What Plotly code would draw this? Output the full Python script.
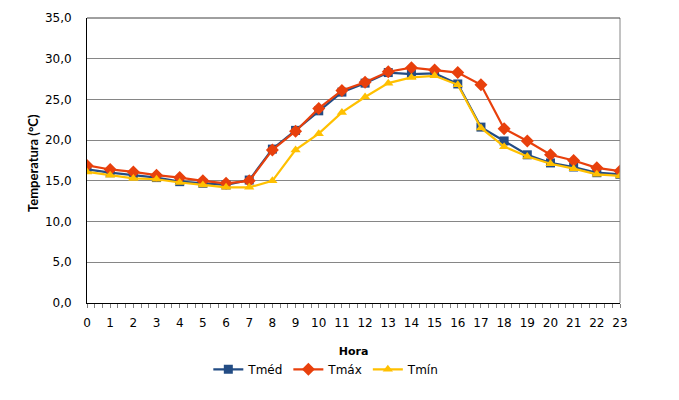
import plotly.graph_objects as go

hours = list(range(24))
tmed = [16.4, 16.0, 15.7, 15.4, 14.9, 14.7, 14.5, 15.1, 18.9, 21.2, 23.6, 25.9,
        27.0, 28.3, 28.1, 28.2, 26.9, 21.6, 19.9, 18.2, 17.2, 16.7, 16.0, 15.8]
tmax = [16.9, 16.4, 16.1, 15.7, 15.4, 15.0, 14.7, 15.0, 18.8, 21.1, 23.9, 26.1,
        27.1, 28.4, 28.9, 28.6, 28.3, 26.8, 21.4, 19.9, 18.2, 17.5, 16.6, 16.2]
tmin = [16.1, 15.7, 15.3, 15.2, 14.8, 14.5, 14.2, 14.2, 15.0, 18.8, 20.8, 23.4,
        25.3, 27.0, 27.7, 27.9, 26.8, 21.5, 19.2, 18.0, 17.1, 16.5, 15.8, 15.6]
y_ticks = [0, 5, 10, 15, 20, 25, 30, 35]

font = "DejaVu Sans, Verdana, sans-serif"

fig = go.Figure()
fig.add_trace(go.Scatter(x=hours, y=tmed, name="Tméd", mode="lines+markers",
                         line=dict(color="#234C84", width=2.2),
                         marker=dict(symbol="square", size=9, color="#234C84")))
fig.add_trace(go.Scatter(x=hours, y=tmax, name="Tmáx", mode="lines+markers",
                         line=dict(color="#E8400C", width=2.2),
                         marker=dict(symbol="diamond", size=10, color="#E8400C")))
fig.add_trace(go.Scatter(x=hours, y=tmin, name="Tmín", mode="lines+markers",
                         line=dict(color="#FFC000", width=2.2),
                         marker=dict(symbol="triangle-up", size=9, color="#FFC000")))

fig.update_layout(
    width=671, height=392,
    margin=dict(l=79, r=59, t=10, b=97, autoexpand=False),
    paper_bgcolor="white", plot_bgcolor="white",
    separators=",.",
    font=dict(family=font, size=12, color="#000000"),
    showlegend=True,
    legend=dict(orientation="h", x=0.449, xanchor="center", y=-0.182, yanchor="top",
                font=dict(size=12), itemwidth=30, tracegroupgap=0),
    xaxis=dict(range=[0, 23], tickmode="array", tickvals=hours,
               ticktext=[str(h) for h in hours], automargin=False,
               showgrid=False, showline=True, linecolor="#000000", linewidth=1,
               ticks="outside", ticklen=4, tickcolor="#808080", ticklabelstandoff=5,
               minor=dict(dtick=1/3, tick0=0, ticks="outside", ticklen=4,
                          tickcolor="#808080", showgrid=False),
               title=dict(text="<b>Hora</b>", font=dict(size=11), standoff=17),
               zeroline=False, mirror=False),
    yaxis=dict(range=[0, 35], tickvals=y_ticks, tickformat=".1f", automargin=False,
               showgrid=True, gridcolor="#868686", gridwidth=1,
               showline=True, linecolor="#000000", linewidth=1,
               ticks="outside", ticklen=12, tickcolor="rgba(255,255,255,0)",
               zeroline=False),
)

fig.add_annotation(text="<b>Temperatura (°C)</b>", xref="paper", yref="paper",
                   x=-0.1004, y=0.493, textangle=-90, showarrow=False,
                   xanchor="center", yanchor="middle",
                   font=dict(family="Lato, DejaVu Sans, sans-serif", size=13))

# plot area border on right/top
fig.add_shape(type="line", xref="paper", yref="paper", x0=1, x1=1, y0=0, y1=1,
              line=dict(color="#868686", width=1))
fig.add_shape(type="line", xref="paper", yref="paper", x0=0, x1=1, y0=1, y1=1,
              line=dict(color="#404040", width=1))

fig.write_html("out.html")
